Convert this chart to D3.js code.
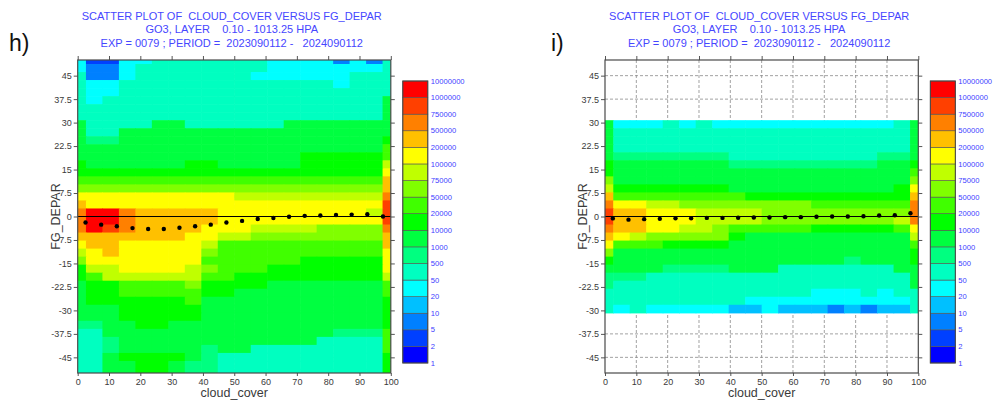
<!DOCTYPE html>
<html>
<head>
<meta charset="utf-8">
<script src="https://cdn.jsdelivr.net/npm/d3@7"></script>
<style>
  html, body { margin: 0; padding: 0; background: #fff; }
  svg { display: block; font-family: "Liberation Sans", Arial, Helvetica, sans-serif; }
  .title { white-space: pre; }
</style>
</head>
<body>
<svg id="chart" width="996" height="401"></svg>
<script>
// ---- data -------------------------------------------------------------
// colour-class boundaries of the count legend (bottom to top)
const countBreaks = [1, 2, 5, 10, 20, 50, 500, 1000, 10000, 20000, 50000, 75000,
                     100000, 200000, 500000, 750000, 1000000, 10000000];
const classColors = ["#0000ff", "#0040ff", "#0080ff", "#00c0ff", "#00ffff", "#00ffc0",
                     "#00ff80", "#00ff40", "#00ff00", "#40ff00", "#80ff00", "#c0ff00",
                     "#ffff00", "#ffc000", "#ff8000", "#ff4000", "#ff0000"];

const xTicks = [0, 10, 20, 30, 40, 50, 60, 70, 80, 90, 100];
const yTicks = [-45, -37.5, -30, -22.5, -15, -7.5, 0, 7.5, 15, 22.5, 30, 37.5, 45];

// bin-mean FG_DEPAR per 5 % cloud-cover class
const meanX = [2.5, 7.5, 12.5, 17.5, 22.5, 27.5, 32.5, 37.5, 42.5, 47.5,
               52.5, 57.5, 62.5, 67.5, 72.5, 77.5, 82.5, 87.5, 92.5, 97.5];
const meanH = [-1.9, -2.6, -3.1, -3.7, -4.0, -4.0, -3.6, -3.1, -2.6, -1.9,
               -1.4, -0.8, -0.5, -0.1, 0.2, 0.3, 0.5, 0.6, 0.7, 0.0];
const meanI = [-0.6, -1.0, -0.85, -0.75, -0.55, -0.55, -0.45, -0.45, -0.4, -0.3,
               -0.3, -0.2, -0.2, -0.1, 0.0, 0.0, 0.1, 0.3, 0.4, 1.05];

// count class of every cell: 20 cloud-cover columns (0..100) x 40 FG_DEPAR rows
// (+50 at the top down to -50); one character per cell, class 0-16 as 0-9,a-g,
// "." = no data
const gridH = [
  "41144555555544442425",
  "42245555555544444445",
  "52245555555444444555",
  "54455555555555554555",
  "54455555555555555555",
  "54555555555555555557",
  "55555555555555555557",
  "55555555555555555557",
  "75555775555557777777",
  "75577777777777777777",
  "76677777777777777778",
  "77777777777777777779",
  "77777777777777888889",
  "8777777887777788888b",
  "8888888888888888888c",
  "9999999999999999999d",
  "aaaaaaaaaaaaaaaaaaad",
  "ccccccccccbbbbbbbbbe",
  "dccccccccccccccccccf",
  "eggedddddcccccccccbf",
  "eggedddddccccccccccf",
  "egfeddddcccbbbbaaaae",
  "dddddddccbbaaaaaaaad",
  "cddcccccb9999999999d",
  "bcdccccca9999999999c",
  "accccccc99999988888c",
  "8bbccccba9998888888c",
  "89bbbbbb99888888888b",
  "7889999a888877777779",
  "78899999887777777779",
  "78888889777777777778",
  "77788888777777777778",
  "77788888777777777778",
  "66778877777777777778",
  "55777777777777776669",
  "55677777777777755559",
  "55677777677555555559",
  "55788887655555555558",
  "55778876655555555558",
  "55778876655555555558"
];

const gridI = [
  "....................",
  "....................",
  "....................",
  "....................",
  "....................",
  "....................",
  "....................",
  "....................",
  "74445454444444444457",
  "75555555555555555557",
  "75555555555555555557",
  "75555555555555555557",
  "76666666555555555667",
  "87777777666666666778",
  "87777777777777777779",
  "a777777777777777777a",
  "b888888877777777778c",
  "d999999998888888888d",
  "eccbbaaaaaaaa999999e",
  "fddcccbbbbaaaaaaaaae",
  "fddcccbbbbaaaaaaaabe",
  "eddccbba99999888889c",
  "dcbaaaaa87777777777b",
  "c9998888777777777779",
  "a7777777777777777778",
  "87777777777777767778",
  "77776666777555555577",
  "66655555555555555557",
  "65555555555555555557",
  "55555555555554445455",
  "55555555544444444445",
  "54544444334333232335",
  "....................",
  "....................",
  "....................",
  "....................",
  "....................",
  "....................",
  "....................",
  "...................."
];

const titleLines = [
  "SCATTER PLOT OF  CLOUD_COVER VERSUS FG_DEPAR",
  "GO3, LAYER    0.10 - 1013.25 HPA",
  "EXP = 0079 ; PERIOD =  2023090112 -   2024090112"
];

// ---- layout -----------------------------------------------------------
const panels = [
  { tag: "h)", grid: gridH, mean: meanH, left: 77.7, right: 390.8, tagX: 9 },
  { tag: "i)", grid: gridI, mean: meanI, left: 605, right: 918.3, tagX: 551 }
];
const plotTop = 60, plotBottom = 373;
const nCols = 20, nRows = 40;
const colStep = 100 / (nCols - 1);
const rowStep = 100 / (nRows - 1);

const svg = d3.select("#chart");
const classOf = ch => parseInt(ch, 17);
const colorOf = d3.scaleOrdinal(d3.range(classColors.length), classColors);
const fmt = d => String(d);

panels.forEach((p, pi) => {
  const x = d3.scaleLinear([0, 100], [p.left, p.right]);
  const y = d3.scaleLinear([-50, 50], [plotBottom, plotTop]);
  const g = svg.append("g");

  const clipId = "clip" + pi;
  svg.append("clipPath").attr("id", clipId)
    .append("rect").attr("x", p.left).attr("y", plotTop)
    .attr("width", p.right - p.left).attr("height", plotBottom - plotTop);

  // dashed grid
  const grid = g.append("g").attr("stroke", "#8a8a8a").attr("stroke-width", 0.8)
    .attr("stroke-dasharray", "3,2");
  grid.selectAll("line.v").data(xTicks.slice(1, -1)).join("line")
    .attr("x1", d => x(d)).attr("x2", d => x(d)).attr("y1", plotTop).attr("y2", plotBottom);
  grid.selectAll("line.h").data(yTicks).join("line")
    .attr("y1", d => y(d)).attr("y2", d => y(d)).attr("x1", p.left).attr("x2", p.right);

  // cells
  const cells = [];
  p.grid.forEach((row, r) => {
    const k = nRows - 1 - r;
    const yc = -50 + k * rowStep;
    row.split("").forEach((ch, c) => {
      if (ch === ".") return;
      const xc = c * colStep;
      cells.push({
        x0: Math.max(0, xc - colStep / 2), x1: Math.min(100, xc + colStep / 2),
        y0: Math.max(-50, yc - rowStep / 2), y1: Math.min(50, yc + rowStep / 2),
        cls: classOf(ch)
      });
    });
  });
  g.append("g").attr("clip-path", `url(#${clipId})`)
    .selectAll("rect").data(cells).join("rect")
    .attr("x", d => x(d.x0)).attr("y", d => y(d.y1))
    .attr("width", d => x(d.x1) - x(d.x0) + 0.6)
    .attr("height", d => y(d.y0) - y(d.y1) + 0.6)
    .attr("fill", d => colorOf(d.cls));

  // zero line
  g.append("line").attr("x1", p.left).attr("x2", p.right)
    .attr("y1", y(0)).attr("y2", y(0)).attr("stroke", "#000").attr("stroke-width", 1.1);

  // bin means
  g.append("g").selectAll("circle").data(p.mean).join("circle")
    .attr("cx", (d, i) => x(meanX[i])).attr("cy", d => y(d)).attr("r", 2.2)
    .attr("fill", "#000");

  // axes
  const styleAxis = sel => {
    sel.select(".domain").remove();
    sel.selectAll(".tick line").attr("stroke", "#555");
    sel.selectAll(".tick text").attr("fill", "#3a3a3a").attr("font-size", 9)
      .attr("font-family", "Liberation Sans, Arial, sans-serif");
  };
  g.append("g").attr("transform", `translate(${p.left},0)`)
    .call(d3.axisLeft(y).tickValues(yTicks).tickFormat(fmt).tickSize(4).tickPadding(2))
    .call(styleAxis);
  g.append("g").attr("transform", `translate(${p.right},0)`)
    .call(d3.axisRight(y).tickValues(yTicks).tickFormat("").tickSize(4))
    .call(styleAxis);
  g.append("g").attr("transform", `translate(0,${plotBottom})`)
    .call(d3.axisBottom(x).tickValues(xTicks).tickFormat(fmt).tickSize(3).tickPadding(3))
    .call(styleAxis);
  g.append("g").attr("transform", `translate(0,${plotTop})`)
    .call(d3.axisTop(x).tickValues(xTicks).tickFormat("").tickSize(4))
    .call(styleAxis);

  // frame
  g.append("rect").attr("x", p.left).attr("y", plotTop)
    .attr("width", p.right - p.left).attr("height", plotBottom - plotTop)
    .attr("fill", "none").attr("stroke", "#4a4a4a").attr("stroke-width", 1.2);

  // axis titles
  g.append("text").attr("x", (p.left + p.right) / 2).attr("y", 397)
    .attr("text-anchor", "middle").attr("font-size", 12.5).attr("fill", "#3a3a3a")
    .text("cloud_cover");
  g.append("text")
    .attr("transform", `translate(${p.left - 18},${y(0)}) rotate(-90)`)
    .attr("text-anchor", "middle").attr("font-size", 12.5).attr("fill", "#3a3a3a")
    .text("FG_DEPAR");

  // titles
  const cx = (p.left + p.right) / 2 - 2.5;
  g.selectAll("text.title").data(titleLines).join("text")
    .attr("class", "title")
    .attr("x", cx).attr("y", (d, i) => 19.5 + i * 13.5)
    .attr("text-anchor", "middle").attr("font-size", 11).attr("fill", "#4646ff")
    .text(d => d);

  // panel tag
  g.append("text").attr("x", p.tagX).attr("y", 51).attr("font-size", 23)
    .attr("fill", "#111").text(p.tag);

  // colour legend
  const lx = p.right + 12, lw = 25;
  const ly = d3.scaleLinear([0, classColors.length], [363, 81]);
  const lg = g.append("g");
  lg.selectAll("rect").data(classColors).join("rect")
    .attr("x", lx).attr("y", (d, i) => ly(i + 1)).attr("width", lw)
    .attr("height", (d, i) => ly(i) - ly(i + 1))
    .attr("fill", d => d).attr("stroke", "#555").attr("stroke-width", 0.6);
  lg.append("rect").attr("x", lx).attr("y", ly(classColors.length)).attr("width", lw)
    .attr("height", ly(0) - ly(classColors.length))
    .attr("fill", "none").attr("stroke", "#444").attr("stroke-width", 1);
  lg.selectAll("text").data(countBreaks).join("text")
    .attr("x", lx + lw + 3).attr("y", (d, i) => ly(i)).attr("dy", "0.35em")
    .attr("font-size", 7.6).attr("fill", "#3c3cff").text(d => d);
});
</script>
</body>
</html>
